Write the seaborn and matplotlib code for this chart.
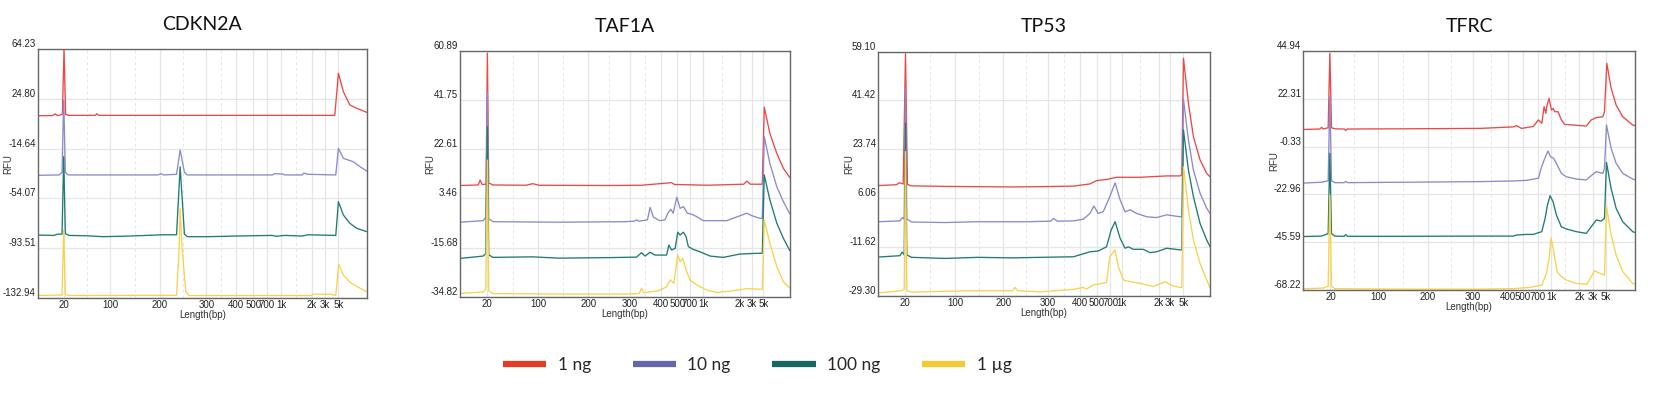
import matplotlib
matplotlib.use('Agg')
import matplotlib.pyplot as plt
from matplotlib.lines import Line2D
import seaborn as sns
import pandas as pd

genes = ['CDKN2A', 'TAF1A', 'TP53', 'TFRC']
amounts = ['1 ng', '10 ng', '100 ng', '1 µg']
size_labels = ['20', '100', '200', '300', '400', '500', '700', '1k', '2k', '3k', '5k']

# ladder positions (% of run) for each size label
ladder_cdkn2a = [8.0, 22.0, 37.2, 51.3, 60.2, 65.5, 69.6, 74.0, 83.3, 87.3, 91.4]
ladder_taf1a = [8.3, 23.7, 38.9, 51.5, 60.9, 65.8, 69.7, 73.7, 84.8, 88.4, 91.9]
ladder_tp53 = [8.0, 23.1, 37.7, 51.2, 60.8, 65.8, 69.9, 73.4, 84.5, 88.0, 92.0]
ladder_tfrc = [8.2, 22.5, 37.6, 51.2, 61.7, 66.2, 70.7, 74.7, 83.2, 87.3, 91.3]

rfu_cdkn2a = [64.23, 24.80, -14.64, -54.07, -93.51, -132.94]
rfu_taf1a = [60.89, 41.75, 22.61, 3.46, -15.68, -34.82]
rfu_tp53 = [59.10, 41.42, 23.74, 6.06, -11.62, -29.30]
rfu_tfrc = [44.94, 22.31, -0.33, -22.96, -45.59, -68.22]

# traces: (run position %, RFU)
cdkn2a_1ng = [(0, 11.5), (4.5, 11.6), (5.3, 13.0), (6.0, 11.6), (7.5, 12.5), (8.0, 64.0), (8.5, 12.5),
              (9.5, 11.8), (17.5, 11.8), (18.0, 13.0), (18.6, 11.8), (90.3, 11.8), (91.4, 45.2),
              (92.9, 30.6), (94.9, 20.0), (97.0, 17.4), (100, 14.2)]
cdkn2a_10ng = [(0, -35.8), (6.5, -35.5), (7.4, -33.5), (7.9, 24.0), (8.4, -33.5), (9.3, -35.5),
               (36.5, -35.5), (37.5, -34.5), (38.3, -35.5), (42.2, -35.0), (43.3, -15.7), (44.6, -33.5),
               (45.5, -35.5), (71.3, -35.5), (72.0, -34.5), (74.6, -34.8), (75.0, -35.5), (80.4, -35.5),
               (80.9, -34.0), (82.1, -35.0), (90.6, -35.5), (91.4, -14.4), (92.9, -22.3), (95.9, -25.0),
               (98.0, -29.0), (100, -32.4)]
cdkn2a_100ng = [(0, -83.2), (5.0, -83.5), (6.0, -82.5), (7.4, -82.5), (7.9, -21.0), (8.4, -82.0),
                (9.5, -83.5), (15.0, -83.8), (20.0, -84.5), (28.0, -84.0), (38.0, -83.0), (42.2, -83.0),
                (43.3, -29.0), (44.6, -82.5), (45.5, -84.5), (52.0, -84.5), (60.0, -84.0), (71.3, -83.5),
                (72.5, -84.2), (75.0, -83.5), (80.4, -84.0), (82.1, -83.0), (90.6, -83.5), (91.4, -56.7),
                (92.9, -67.3), (94.9, -73.9), (97.0, -77.9), (100, -80.5)]
cdkn2a_1ug = [(0, -131.2), (7.4, -130.8), (7.9, -79.2), (8.4, -130.5), (9.5, -131.2), (42.2, -131.0),
              (42.9, -100.0), (43.3, -62.0), (43.8, -90.0), (45.0, -128.0), (46.0, -131.2), (83.3, -131.2),
              (83.6, -130.2), (88.9, -130.2), (90.6, -131.0), (91.5, -106.4), (92.9, -114.9),
              (94.9, -120.7), (97.0, -124.0), (100, -128.2)]

taf1a_1ng = [(0, 8.5), (5.5, 8.7), (6.1, 10.6), (6.7, 8.9), (7.9, 9.0), (8.3, 60.0), (8.7, 9.5),
             (10.0, 8.7), (20.0, 8.6), (22.0, 9.2), (24.0, 8.6), (45.0, 8.5), (55.0, 8.6), (64.1, 9.6),
             (65.0, 8.9), (75.0, 8.6), (86.0, 9.0), (86.9, 10.2), (88.0, 9.0), (91.6, 9.0), (92.2, 39.0),
             (93.9, 28.8), (96.0, 21.0), (98.0, 15.2), (100, 11.5)]
taf1a_10ng = [(0, -5.8), (7.0, -5.2), (7.8, -4.0), (8.3, 45.0), (8.7, -4.5), (10, -5.6), (30, -5.8),
              (50, -5.6), (52.8, -5.4), (53.5, -4.9), (54.2, -5.4), (56.8, -4.9), (57.6, 0.0), (58.6, -3.8),
              (60.5, -5.2), (62.1, -4.9), (63.1, -2.0), (63.9, -0.8), (64.6, -2.3), (65.7, 3.9),
              (66.7, -0.4), (67.7, 0.3), (68.9, -2.3), (70.2, -2.7), (71.7, -3.6), (73.7, -5.2),
              (80.8, -5.2), (86.9, -2.3), (88.5, -3.3), (90.9, -4.3), (91.6, -4.3), (92.2, 27.5),
              (93.9, 17.1), (96.0, 8.0), (98.0, 2.2), (100, -2.7)]
taf1a_100ng = [(0, -19.9), (7.0, -19.0), (7.8, -18.0), (8.3, 31.4), (8.7, -18.5), (10, -19.5), (22, -19.3),
               (30, -19.8), (45, -19.6), (53.5, -19.4), (55.0, -17.7), (56.1, -19.0), (57.6, -17.5),
               (59.1, -18.6), (62.6, -18.6), (63.3, -14.7), (64.1, -16.6), (65.2, -16.0), (66.0, -9.7),
               (66.7, -10.8), (67.7, -9.7), (68.5, -11.4), (69.2, -15.3), (70.7, -16.4), (72.7, -17.3),
               (75.8, -19.0), (79.8, -19.5), (84.8, -18.2), (90.4, -17.9), (91.6, -17.9), (92.2, 12.6),
               (93.9, 2.9), (96.0, -6.2), (98.0, -12.1), (100, -17.0)]
taf1a_1ug = [(0, -33.5), (7.0, -33.0), (7.8, -32.0), (8.3, 18.4), (8.7, -32.5), (10, -33.6), (30, -33.8),
             (50, -33.8), (54.3, -33.6), (55.0, -31.5), (55.7, -33.3), (60.1, -32.5), (62.6, -31.0),
             (63.1, -29.6), (63.8, -28.3), (64.8, -29.6), (66.0, -18.6), (66.7, -21.2), (67.5, -19.9),
             (68.5, -24.4), (69.7, -28.3), (71.7, -30.2), (74.7, -32.2), (77.8, -33.2), (82.8, -32.5),
             (86.9, -31.7), (90.9, -31.9), (91.6, -31.9), (92.2, -5.0), (93.9, -14.0), (96.0, -23.1),
             (98.0, -29.0), (100, -31.5)]

tp53_1ng = [(0, 10.6), (5.5, 10.9), (6.3, 11.6), (7.5, 11.2), (8.2, 58.3), (8.8, 11.0), (10, 10.5),
            (20, 10.3), (30, 10.2), (40, 10.1), (48.8, 10.2), (58.8, 10.4), (63.8, 11.2), (65.8, 12.4),
            (68.8, 12.8), (71.9, 13.6), (78.9, 13.6), (86.9, 14.1), (91.0, 14.1), (91.5, 14.5),
            (92.0, 56.7), (93.5, 40.4), (95.0, 28.3), (97.0, 19.9), (99.0, 15.0), (100, 13.8)]
tp53_10ng = [(0, -2.5), (6.5, -2.2), (7.2, -1.0), (7.8, -1.5), (8.2, 45.8), (8.6, -1.5), (10, -2.6),
             (20, -2.8), (30, -2.5), (45, -2.5), (52.0, -2.3), (52.8, -1.3), (54.0, -2.3), (58.8, -2.2),
             (61.8, -1.6), (63.8, 0.5), (65.0, 3.2), (66.3, 0.5), (67.8, 1.1), (69.8, 6.6), (71.4, 11.6),
             (72.9, 5.4), (74.4, 1.1), (75.9, 1.8), (77.9, 0.5), (80.9, -0.7), (83.9, -1.0), (86.9, 0.0),
             (91.0, -0.7), (91.5, -0.7), (92.0, 41.9), (93.5, 27.1), (95.0, 16.2), (97.0, 7.8),
             (99.0, 2.4), (100, 0.5)]
tp53_100ng = [(0, -15.3), (6.5, -14.8), (7.2, -13.5), (7.8, -14.5), (8.2, 33.2), (8.6, -14.5), (10, -15.4),
              (20, -15.8), (30, -15.4), (40, -15.6), (48.8, -15.4), (58.8, -15.2), (63.8, -13.4),
              (66.3, -13.1), (68.8, -11.6), (70.2, -5.5), (71.4, -2.5), (72.9, -8.5), (74.4, -12.1),
              (75.4, -11.6), (76.9, -12.5), (79.9, -12.5), (81.9, -13.7), (83.9, -13.4), (86.9, -12.1),
              (91.0, -12.7), (91.5, -12.7), (92.0, 30.7), (93.5, 16.2), (95.0, 6.6), (97.0, -3.1),
              (99.0, -9.1), (100, -11.5)]
tp53_1ug = [(0, -28.3), (7.0, -27.5), (7.8, -27.0), (8.2, 22.9), (8.6, -27.5), (10, -28.0), (20, -27.7),
            (30, -27.5), (40.5, -27.5), (41.2, -26.3), (42.0, -27.5), (48.8, -27.9), (58.8, -27.0),
            (61.8, -26.3), (62.8, -26.9), (64.8, -25.4), (68.8, -24.5), (69.8, -15.2), (71.3, -12.7),
            (72.4, -18.8), (73.9, -23.6), (75.9, -24.2), (78.9, -24.8), (82.9, -26.0), (86.4, -24.2),
            (88.9, -25.8), (91.0, -26.3), (91.5, -26.3), (92.0, 17.4), (93.5, 1.7), (95.0, -9.1),
            (97.0, -17.6), (99.0, -23.6), (100, -26.3)]

tfrc_1ng = [(0, 7.8), (5.0, 8.0), (5.5, 8.8), (6.0, 8.0), (7.5, 8.6), (8.0, 43.8), (8.5, 8.6), (9.5, 8.1),
            (12.3, 8.0), (12.8, 7.3), (13.3, 8.0), (30, 8.1), (53.3, 8.3), (63.3, 9.0), (64.3, 9.6),
            (65.8, 8.3), (69.3, 9.2), (70.9, 12.3), (71.9, 10.7), (72.6, 18.6), (73.1, 15.4), (73.5, 19.4),
            (74.1, 22.5), (74.8, 17.0), (75.3, 17.8), (75.8, 16.2), (76.8, 16.2), (77.8, 12.3),
            (78.8, 10.2), (81.3, 9.9), (85.3, 9.4), (86.8, 12.3), (88.3, 13.4), (90.3, 13.8),
            (90.8, 16.2), (91.5, 39.1), (92.8, 27.3), (94.3, 19.4), (96.3, 13.8), (99.3, 9.9), (100, 9.6)]
tfrc_10ng = [(0, -17.6), (5.5, -17.2), (7.5, -16.5), (8.0, 23.3), (8.5, -16.5), (9.5, -17.4), (12.3, -17.4),
             (12.8, -16.8), (13.3, -17.4), (30, -17.2), (53.3, -16.9), (63.3, -16.6), (67.3, -16.3),
             (70.9, -15.3), (71.7, -10.6), (72.6, -6.7), (73.8, -2.4), (74.5, -5.1), (75.5, -5.9),
             (76.8, -9.8), (77.8, -13.0), (79.3, -14.6), (82.3, -15.7), (85.3, -16.1), (86.8, -14.1),
             (88.3, -12.2), (90.3, -13.0), (90.8, -10.6), (91.4, 9.9), (92.8, -1.1), (94.3, -8.2),
             (96.3, -13.0), (99.3, -15.7), (100, -16.0)]
tfrc_100ng = [(0, -42.9), (5.5, -42.7), (7.5, -41.5), (8.0, -3.5), (8.5, -41.5), (9.5, -42.7), (12.3, -42.8),
              (12.8, -42.0), (13.3, -42.8), (30, -42.8), (53.3, -42.7), (63.3, -42.7), (64.3, -42.2),
              (67.3, -41.9), (69.3, -41.9), (71.9, -40.6), (72.9, -34.3), (73.6, -28.0), (74.4, -23.6),
              (75.3, -26.4), (76.3, -32.7), (77.8, -38.3), (79.3, -39.3), (82.3, -40.6), (85.3, -41.4),
              (86.8, -38.3), (88.3, -35.1), (89.8, -35.6), (90.8, -34.3), (91.4, -7.8), (92.8, -20.1),
              (94.3, -29.5), (96.3, -35.9), (99.3, -40.6), (100, -41.0)]
tfrc_1ug = [(0, -67.6), (6.0, -67.3), (7.5, -66.5), (8.0, -23.2), (8.5, -66.5), (9.5, -67.6), (30, -67.8),
            (53.3, -67.8), (63.3, -67.6), (67.3, -67.1), (69.3, -66.7), (71.9, -65.9), (73.3, -60.3),
            (74.1, -53.2), (74.7, -43.5), (75.5, -50.1), (76.5, -59.5), (77.8, -61.9), (79.3, -63.5),
            (82.3, -65.1), (85.5, -65.5), (86.8, -61.9), (87.8, -59.1), (89.3, -60.3), (90.8, -61.1),
            (91.4, -28.8), (92.8, -42.2), (94.3, -51.6), (96.3, -59.5), (99.3, -65.1), (100, -65.5)]

ladders = dict(zip(genes, [ladder_cdkn2a, ladder_taf1a, ladder_tp53, ladder_tfrc]))
rfu_ticks = dict(zip(genes, [rfu_cdkn2a, rfu_taf1a, rfu_tp53, rfu_tfrc]))
traces = {
    'CDKN2A': [cdkn2a_1ng, cdkn2a_10ng, cdkn2a_100ng, cdkn2a_1ug],
    'TAF1A': [taf1a_1ng, taf1a_10ng, taf1a_100ng, taf1a_1ug],
    'TP53': [tp53_1ng, tp53_10ng, tp53_100ng, tp53_1ug],
    'TFRC': [tfrc_1ng, tfrc_10ng, tfrc_100ng, tfrc_1ug],
}

rows = []
for g in genes:
    for amt, tr in zip(amounts, traces[g]):
        for p, v in tr:
            rows.append({'gene': g, 'amount': amt, 'pos': p, 'rfu': v})
df = pd.DataFrame(rows)

trace_colors = ['#EE4747', '#8A8AD0', '#1F7B73', '#F8D24E']
legend_colors = ['#E43B25', '#6467A9', '#176860', '#F4CA32']

sns.set_theme(style='white')
plt.rcParams['font.family'] = ['Liberation Sans', 'DejaVu Sans']

W, H = 1657, 393
fig = plt.figure(figsize=(W / 100, H / 100), dpi=100)

# axes boxes in pixels: left, top, right, bottom
boxes = [(37.7, 49.3, 366.7, 297.7), (460, 51, 790, 296.7),
         (878.3, 51.7, 1210, 295.7), (1303.3, 51, 1635, 290)]

for g, (l, t, r, b) in zip(genes, boxes):
    ax = fig.add_axes([l / W, 1 - b / H, (r - l) / W, (b - t) / H])
    lad = ladders[g]
    yt = rfu_ticks[g]
    # grid
    for xp in lad:
        ax.axvline(xp, color='#E6E6E6', lw=0.9, zorder=0)
    for i in [0, 1, 2, 3, 7]:
        ax.axvline((lad[i] + lad[i + 1]) / 2, color='#E6E6E6', lw=0.7, ls=(0, (3, 3)), zorder=0)
    for yv in yt:
        ax.axhline(yv, color='#E6E6E6', lw=0.9, zorder=0)
    sns.lineplot(data=df[df.gene == g], x='pos', y='rfu', hue='amount', hue_order=amounts,
                 palette=trace_colors, sort=False, estimator=None, legend=False, lw=0.95, ax=ax)
    ax.set_xlim(0, 100)
    ax.set_ylim(yt[-1], yt[0])
    ax.set_xticks(lad)
    ax.set_xticklabels(size_labels)
    ax.set_yticks(yt)
    ax.set_yticklabels(['%.2f' % v for v in yt], va='bottom')
    ax.tick_params(length=0, labelsize=7, pad=1.5, colors='#222222')
    ax.set_xlabel('Length(bp)', fontsize=7, labelpad=0, color='#333333')
    ax.set_ylabel('RFU', fontsize=7, color='#333333')
    ax.yaxis.set_label_coords(-0.074, 0.54)
    for s in ax.spines.values():
        s.set_color('#666666')
        s.set_linewidth(1.0)
    ax.set_title(g, fontsize=14, pad=14, family=['Lato', 'DejaVu Sans'], color='#111111')

handles = [Line2D([], [], color=c, lw=4.5, solid_capstyle='butt') for c in legend_colors]
fig.legend(handles, amounts, loc='center', bbox_to_anchor=(0.457, 0.071), ncol=4, frameon=False,
           prop={'family': ['Lato', 'DejaVu Sans'], 'size': 12.5},
           handlelength=2.5, handletextpad=0.65, columnspacing=2.4)

fig.savefig('out.png', dpi=100)
